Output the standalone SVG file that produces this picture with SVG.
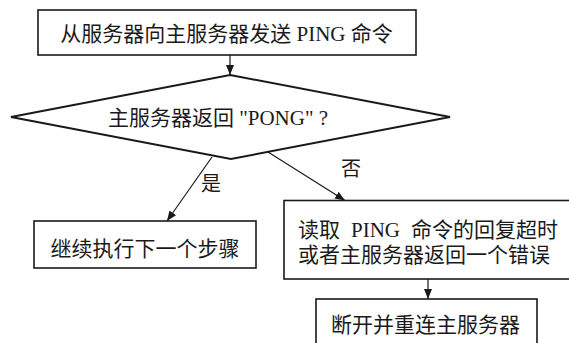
<svg xmlns="http://www.w3.org/2000/svg" width="569" height="343" viewBox="0 0 569 343">
<style>
.box{fill:#fff;stroke:#1a1a1a;stroke-width:1.6}
.dia{fill:#fff;stroke:#1a1a1a;stroke-width:2}
.t{font-family:"Liberation Serif","Noto Sans CJK SC",serif;font-size:21px;fill:#1a1a1a}
.lbl{font-family:"Liberation Serif","Noto Sans CJK SC",serif;font-size:20px;fill:#1a1a1a}
.m{text-anchor:middle}
.c{fill:none;stroke:#1a1a1a;stroke-width:1.2}
</style>
<defs>
<marker id="ah" markerUnits="userSpaceOnUse" markerWidth="10" markerHeight="8" refX="10" refY="4" orient="auto">
<path d="M0,0 L10,4 L0,8 z" fill="#1a1a1a"/>
</marker>
</defs>
<rect width="569" height="343" fill="#fff"/>
<g id="n-send">
<rect class="box" x="38" y="10" width="378" height="45"/>
<text class="t m" x="226.5" y="41">从服务器向主服务器发送 PING 命令</text>
</g>
<g id="n-check">
<polygon class="dia" points="230,75 450,117 231,159 11,117"/>
<text class="t m" x="218" y="124.5">主服务器返回 "PONG" ?</text>
</g>
<g id="n-continue">
<rect class="box" x="34" y="221" width="222" height="47"/>
<text class="t m" x="145" y="255.5">继续执行下一个步骤</text>
</g>
<g id="n-error">
<rect class="box" x="284" y="200.5" width="290" height="78.5"/>
<text class="t" y="237"><tspan x="298">读取</tspan><tspan x="351">PING</tspan><tspan x="411">命令的回复超时</tspan></text>
<text class="t" x="298" y="261.5">或者主服务器返回一个错误</text>
</g>
<g id="n-reconnect">
<rect class="box" x="316" y="299" width="221" height="50"/>
<text class="t m" x="425.5" y="331.5">断开并重连主服务器</text>
</g>
<g id="connectors">
<line class="c" x1="230" y1="55" x2="230" y2="75" marker-end="url(#ah)"/>
<line class="c" x1="212" y1="157" x2="167" y2="221" marker-end="url(#ah)"/>
<line class="c" x1="268" y1="152" x2="345" y2="200.5" marker-end="url(#ah)"/>
<line class="c" x1="428" y1="279" x2="428" y2="299" marker-end="url(#ah)"/>
<text class="lbl m" x="211" y="191">是</text>
<text class="lbl m" x="351" y="176">否</text>
</g>
</svg>
